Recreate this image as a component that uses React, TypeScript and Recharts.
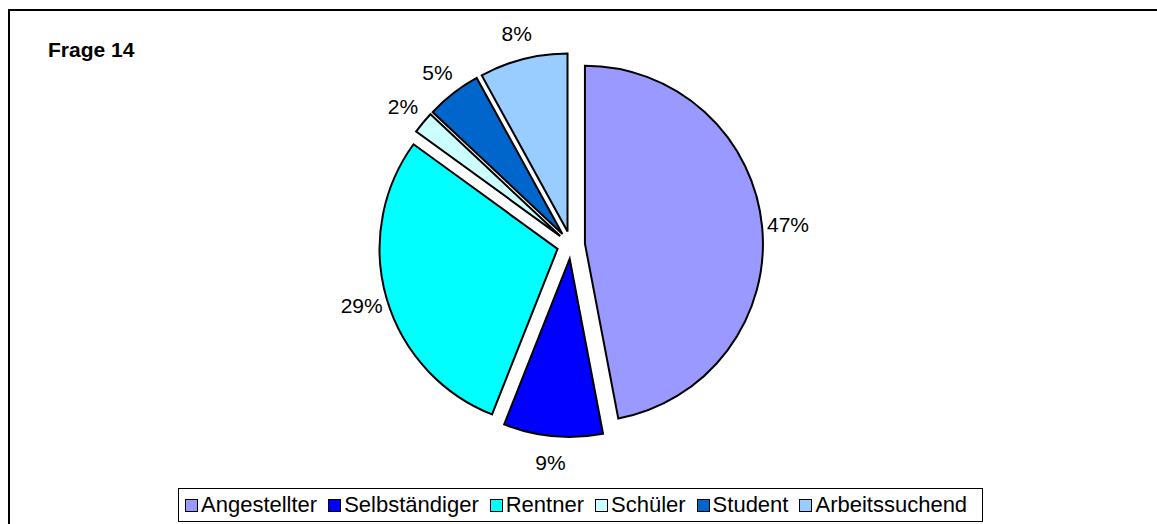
import { PieChart, Pie, Cell, Legend, Sector } from 'recharts';

const categories = ['Angestellter', 'Selbständiger', 'Rentner', 'Schüler', 'Student', 'Arbeitssuchend'];
const shares = [47, 9, 29, 2, 5, 8];
const colors = ['#9999FF', '#0000FF', '#00FFFF', '#CCFFFF', '#0066CC', '#99CCFF'];

const data = categories.map((name, i) => ({ name, value: shares[i], color: colors[i] }));

const RAD = Math.PI / 180;
const EXPLODE = 14;
const FONT = '"Liberation Sans", Arial, sans-serif';

/** Sector pushed outwards along its middle angle (Excel "exploded" pie) */
function ExplodedSector(props: any) {
  const { cx, cy, midAngle } = props;
  const dx = EXPLODE * Math.cos(-midAngle * RAD);
  const dy = EXPLODE * Math.sin(-midAngle * RAD);
  return <Sector {...props} cx={cx + dx} cy={cy + dy} />;
}

function renderLabel(props: any) {
  const { cx, cy, midAngle, outerRadius, value } = props;
  const r = outerRadius + EXPLODE + 26;
  const x = cx + r * Math.cos(-midAngle * RAD);
  const y = cy + r * Math.sin(-midAngle * RAD);
  return (
    <text
      x={x}
      y={y}
      textAnchor="middle"
      dominantBaseline="central"
      fontSize={21}
      fontFamily={FONT}
      fill="#000"
    >
      {`${value}%`}
    </text>
  );
}

function LegendBox() {
  return (
    <div
      style={{
        display: 'flex',
        alignItems: 'center',
        boxSizing: 'border-box',
        width: 805,
        height: 34,
        border: '1px solid #000',
        padding: '0 6px',
        background: '#fff',
        fontFamily: FONT,
        fontSize: 22,
        whiteSpace: 'nowrap',
      }}
    >
      {data.map((d, i) => (
        <div key={d.name} style={{ display: 'flex', alignItems: 'center', marginLeft: i === 0 ? 0 : 11 }}>
          <span
            style={{
              display: 'inline-block',
              width: 11,
              height: 11,
              background: d.color,
              border: '1px solid #000',
              marginRight: 3,
            }}
          />
          <span>{d.name}</span>
        </div>
      ))}
    </div>
  );
}

export default function App() {
  return (
    <div
      style={{
        position: 'fixed',
        left: 0,
        top: 0,
        width: 1157,
        height: 524,
        overflow: 'hidden',
        background: '#fff',
      }}
    >
      <div
        style={{
          position: 'absolute',
          left: 8,
          top: 9,
          width: 1200,
          height: 600,
          borderTop: '2px solid #000',
          borderLeft: '2px solid #000',
        }}
      />
      <div
        style={{
          position: 'absolute',
          left: 48,
          top: 38,
          fontFamily: FONT,
          fontWeight: 700,
          fontSize: 21,
        }}
      >
        Frage 14
      </div>
      <div style={{ position: 'absolute', left: 0, top: 0 }}>
        <PieChart width={1157} height={524} margin={{ top: 0, right: 0, bottom: 0, left: 0 }}>
          <Pie
            data={data}
            dataKey="value"
            nameKey="name"
            cx={571}
            cy={245}
            outerRadius={178}
            startAngle={90}
            endAngle={-270}
            stroke="#000"
            strokeWidth={2}
            shape={ExplodedSector}
            label={renderLabel}
            labelLine={false}
            isAnimationActive={false}
          >
            {data.map((d) => (
              <Cell key={d.name} fill={d.color} />
            ))}
          </Pie>
          <Legend
            content={() => <LegendBox />}
            wrapperStyle={{ left: 178, top: 488, width: 'auto', bottom: 'auto' }}
          />
        </PieChart>
      </div>
    </div>
  );
}
